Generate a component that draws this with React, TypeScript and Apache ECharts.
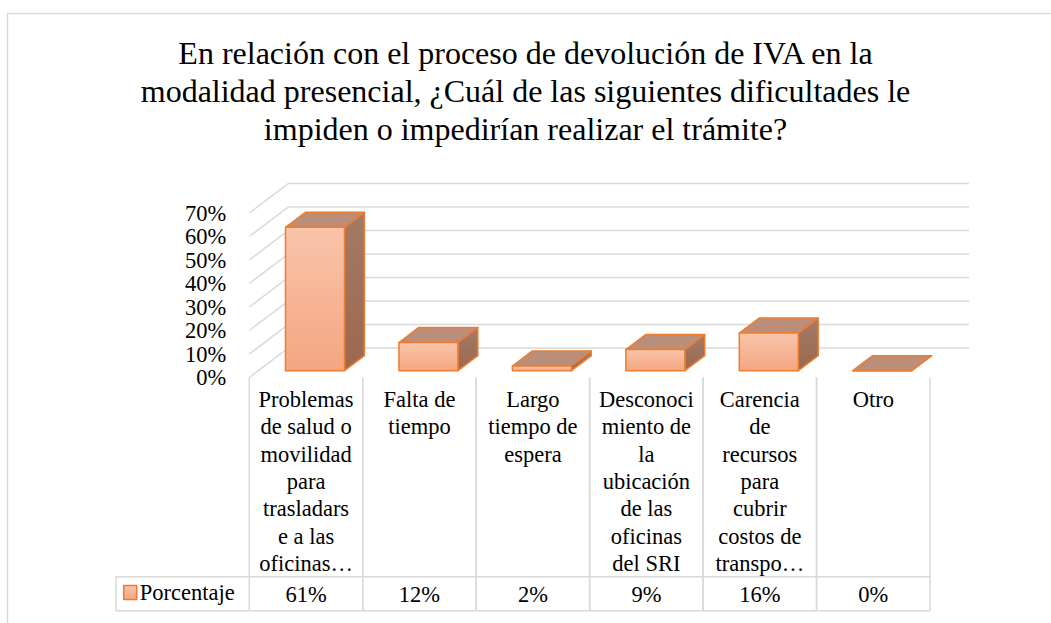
import React, { useEffect, useRef } from "react";
import * as echarts from "echarts";

const titleText =
  "En relación con el proceso de devolución de IVA en la\nmodalidad presencial, ¿Cuál de las siguientes dificultades le\nimpiden o impedirían realizar el trámite?";

const categories = [
  "Problemas\nde salud o\nmovilidad\npara\ntrasladars\ne a las\noficinas…",
  "Falta de\ntiempo",
  "Largo\ntiempo de\nespera",
  "Desconoci\nmiento de\nla\nubicación\nde las\noficinas\ndel SRI",
  "Carencia\nde\nrecursos\npara\ncubrir\ncostos de\ntranspo…",
  "Otro",
];
const values = [61, 12, 2, 9, 16, 0];
const yTicks = [0, 10, 20, 30, 40, 50, 60, 70];
const seriesName = "Porcentaje";

const FONT = "Times New Roman, Liberation Serif, DejaVu Serif, serif";
const DX = 39;
const DY = -29.5;
const F0 = 0.23;
const F1 = 0.74;
const ROW_H = 34;
const LEGEND_LEFT = 116;
const GRID_COLOR = "#D9D9D9";

export default function App() {
  const ref = useRef<HTMLDivElement>(null);

  useEffect(() => {
    if (!ref.current) return;
    const chart = echarts.init(ref.current, undefined, { renderer: "svg" });

    const frontGrad = () =>
      new echarts.graphic.LinearGradient(0, 0, 0, 1, [
        { offset: 0, color: "#F9C4AA" },
        { offset: 1, color: "#F4A681" },
      ]);
    const sideGrad = () =>
      new echarts.graphic.LinearGradient(0, 0, 0, 1, [
        { offset: 0, color: "#A47A65" },
        { offset: 1, color: "#9C6850" },
      ]);

    const option: any = {
      animation: false,
      backgroundColor: "#ffffff",
      textStyle: { fontFamily: FONT },
      title: {
        text: titleText,
        left: "center",
        top: 29,
        textStyle: {
          fontFamily: FONT,
          fontSize: 32,
          lineHeight: 38,
          fontWeight: "normal",
          color: "#000000",
        },
      },
      legend: {
        data: [seriesName],
        left: 123,
        top: 581,
        padding: 0,
        icon: "rect",
        itemWidth: 13,
        itemHeight: 14,
        selectedMode: false,
        itemStyle: {
          color: frontGrad(),
          borderColor: "#ED7D31",
          borderWidth: 1.5,
        },
        textStyle: { fontFamily: FONT, fontSize: 22.5, color: "#000000", padding: [0, 0, 0, -2] },
      },
      grid: [
        { left: 249.3, top: 213, width: 680.7, height: 164.5 },
        { left: 249.3, top: 377.5, width: 680.7, height: 233.2 },
      ],
      xAxis: [
        { type: "category", gridIndex: 0, data: categories, show: false },
        {
          type: "category",
          gridIndex: 1,
          data: categories,
          position: "top",
          axisLine: { show: false },
          axisTick: { show: false },
          splitLine: { show: false },
          axisLabel: {
            inside: true,
            interval: 0,
            verticalAlign: "top",
            margin: 8,
            fontFamily: FONT,
            fontSize: 22.5,
            lineHeight: 27.4,
            color: "#000000",
          },
        },
      ],
      yAxis: [
        {
          type: "value",
          gridIndex: 0,
          min: 0,
          max: 70,
          interval: 10,
          axisLine: { show: false },
          axisTick: { show: false },
          splitLine: { show: false },
          axisLabel: {
            formatter: "{value}%",
            margin: 23,
            fontFamily: FONT,
            fontSize: 22.5,
            color: "#000000",
          },
        },
        { type: "value", gridIndex: 1, min: 0, max: 100, show: false },
      ],
      graphic: [
        {
          type: "rect",
          silent: true,
          z: -10,
          shape: { x: 7.5, y: 13.5, width: 1100, height: 700 },
          style: { fill: null, stroke: GRID_COLOR, lineWidth: 1.5 },
        },
      ],
      series: [
        {
          type: "custom",
          xAxisIndex: 0,
          yAxisIndex: 0,
          clip: false,
          silent: true,
          z: 1,
          data: yTicks.map((v) => [0, v]),
          encode: { x: 0, y: 1 },
          renderItem: (params: any, api: any) => {
            const cs = params.coordSys;
            const y = api.coord([0, api.value(1)])[1];
            const L = cs.x;
            const R = cs.x + cs.width;
            return {
              type: "polyline",
              shape: {
                points: [
                  [L, y],
                  [L + DX, y + DY],
                  [R + DX, y + DY],
                ],
              },
              style: { stroke: GRID_COLOR, lineWidth: 1.5, fill: null },
            };
          },
        },
        {
          type: "custom",
          name: seriesName,
          xAxisIndex: 0,
          yAxisIndex: 0,
          clip: false,
          z: 2,
          itemStyle: { color: "#F6B393", borderColor: "#ED7D31" },
          data: values.map((v, i) => [i, v]),
          encode: { x: 0, y: 1 },
          renderItem: (params: any, api: any) => {
            const i = api.value(0);
            const v = api.value(1);
            const base = api.coord([i, 0]);
            const top = api.coord([i, v]);
            const bw = api.size([1, 0])[0] * 0.52;
            const ox = DX * F0;
            const oy = DY * F0;
            const ddx = DX * (F1 - F0);
            const ddy = DY * (F1 - F0);
            const x0 = base[0] - bw / 2 + ox;
            const x1 = x0 + bw;
            const yb = base[1] + oy;
            const yt = top[1] + oy;
            const stroke = { stroke: "#ED7D31", lineWidth: 1.5, lineJoin: "round" };
            return {
              type: "group",
              children: [
                {
                  type: "polygon",
                  shape: {
                    points: [
                      [x1, yt],
                      [x1 + ddx, yt + ddy],
                      [x1 + ddx, yb + ddy],
                      [x1, yb],
                    ],
                  },
                  style: { fill: sideGrad(), ...stroke },
                },
                {
                  type: "polygon",
                  shape: {
                    points: [
                      [x0, yt],
                      [x1, yt],
                      [x1 + ddx, yt + ddy],
                      [x0 + ddx, yt + ddy],
                    ],
                  },
                  style: { fill: "#BB8E79", ...stroke },
                },
                {
                  type: "rect",
                  shape: { x: x0, y: yt, width: bw, height: yb - yt },
                  style: { fill: frontGrad(), ...stroke },
                },
              ],
            };
          },
        },
        {
          type: "custom",
          name: "tabla",
          xAxisIndex: 1,
          yAxisIndex: 1,
          clip: false,
          silent: true,
          z: 3,
          data: values.map((v, i) => [i, v]),
          encode: { x: 0, y: 1 },
          renderItem: (params: any, api: any) => {
            const cs = params.coordSys;
            const i = api.value(0);
            const v = api.value(1);
            const c = api.coord([i, 0]);
            const bw = api.size([1, 0])[0];
            const xl = c[0] - bw / 2;
            const xr = c[0] + bw / 2;
            const top = cs.y;
            const bot = cs.y + cs.height;
            const rowTop = bot - ROW_H;
            const ls = { stroke: GRID_COLOR, lineWidth: 1.5 };
            const line = (x1: number, y1: number, x2: number, y2: number) => ({
              type: "line",
              shape: { x1, y1, x2, y2 },
              style: ls,
            });
            const children: any[] = [
              line(xl, top, xl, bot),
              line(xr, top, xr, bot),
              line(xl, rowTop, xr, rowTop),
              line(xl, bot, xr, bot),
              {
                type: "text",
                x: c[0],
                y: (rowTop + bot) / 2 + 1,
                style: {
                  text: v + "%",
                  align: "center",
                  verticalAlign: "middle",
                  fontFamily: FONT,
                  fontSize: 22.5,
                  fill: "#000000",
                },
              },
            ];
            if (i === 0) {
              children.push(line(LEGEND_LEFT, rowTop, xl, rowTop));
              children.push(line(LEGEND_LEFT, bot, xl, bot));
              children.push(line(LEGEND_LEFT, rowTop, LEGEND_LEFT, bot));
            }
            return { type: "group", children };
          },
        },
      ],
    };

    chart.setOption(option);
    return () => chart.dispose();
  }, []);

  return (
    <div
      ref={ref}
      style={{ position: "fixed", left: 0, top: 0, width: 1051, height: 623 }}
    />
  );
}
